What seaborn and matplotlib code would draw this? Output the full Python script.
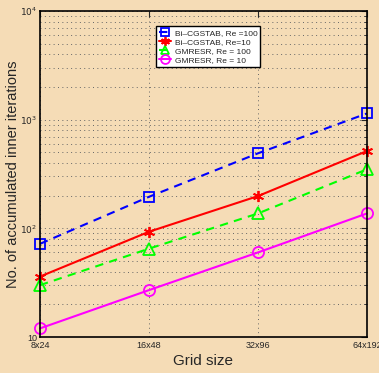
import matplotlib
matplotlib.use("Agg")
import matplotlib.pyplot as plt
import seaborn as sns
import pandas as pd
import numpy as np
from matplotlib.ticker import FixedLocator, FixedFormatter, LogLocator, NullFormatter

grid_labels = ["8x24", "16x48", "32x96", "64x192"]
bicg_re100 = [72, 195, 490, 1140]
bicg_re10 = [36, 93, 198, 514]
gmresr_re100 = [30, 65, 137, 349]
gmresr_re10 = [12, 27, 60, 137]
series_names = ["Bi\u2013CGSTAB, Re =100", "Bi\u2013CGSTAB, Re=10",
                "GMRESR, Re = 100", "GMRESR, Re = 10"]

sns.set_theme(style="white")
plt.rcParams['font.family'] = ['Liberation Sans', 'DejaVu Sans']
bg = "#F5DCB6"

fig = plt.figure(figsize=(3.79, 3.73), dpi=100, facecolor=bg)
ax = fig.add_axes([0.1055, 0.0965, 0.8625, 0.874])
ax.set_facecolor(bg)

styles = [
    dict(color="#0000FF", linestyle=(0, (4, 3)), marker="s", ms=6.5),
    dict(color="#FF0000", linestyle="-", marker=(6, 2, 0), ms=8),
    dict(color="#00FF00", linestyle=(0, (4, 3)), marker="^", ms=8),
    dict(color="#FF00FF", linestyle="-", marker="o", ms=8),
]
data = [bicg_re100, bicg_re10, gmresr_re100, gmresr_re10]
x = np.arange(len(grid_labels))
for name, vals, st in zip(series_names, data, styles):
    df = pd.DataFrame({"x": x, "y": vals})
    sns.lineplot(data=df, x="x", y="y", ax=ax, color=st["color"],
                 linestyle=st["linestyle"], linewidth=1.5, marker=st["marker"],
                 markersize=st["ms"], markerfacecolor="none",
                 markeredgecolor=st["color"], markeredgewidth=1.3,
                 label=name, clip_on=False)

ax.set_yscale("log")
ax.set_ylim(10, 10000)
ax.set_xlim(0, 3)
ax.xaxis.set_major_locator(FixedLocator(x))
ax.xaxis.set_major_formatter(FixedFormatter(grid_labels))
ax.yaxis.set_major_locator(FixedLocator([10, 100, 1000, 10000]))
ax.yaxis.set_major_formatter(FixedFormatter(["10", "$10^2$", "$10^3$", "$10^4$"]))
ax.yaxis.set_minor_locator(LogLocator(base=10, subs=np.arange(2, 10)))
ax.yaxis.set_minor_formatter(NullFormatter())

ax.tick_params(axis="both", which="both", direction="in", labelsize=6.5,
               top=True, right=True)
ax.tick_params(axis="x", which="major", pad=3)
ax.tick_params(axis="y", which="major", pad=2)
ax.tick_params(axis="both", which="major", length=4, width=0.8)
ax.tick_params(axis="y", which="minor", length=2, width=0.6)
ax.grid(True, which="major", axis="both", linestyle=(0, (1, 3.5)), color="#666666", linewidth=0.7)
ax.grid(True, which="minor", axis="y", linestyle=(0, (1, 3.5)), color="#666666", linewidth=0.7)
for s in ax.spines.values():
    s.set_color("black")
    s.set_linewidth(1.2)

ax.set_xlabel("Grid size", fontsize=11, labelpad=3)
ax.set_ylabel("No. of accumulated inner iterations", fontsize=10.5)
ax.yaxis.set_label_coords(-0.062, 0.5)

leg = ax.legend(loc="upper left", bbox_to_anchor=(0.342, 0.966), fontsize=6,
                frameon=True, fancybox=False, framealpha=1, edgecolor="black",
                handlelength=1.4, borderpad=0.35, labelspacing=0.15,
                handletextpad=0.5, markerscale=0.8)
leg.get_frame().set_linewidth(1.0)

fig.savefig("out.png", dpi=100, facecolor=bg)
